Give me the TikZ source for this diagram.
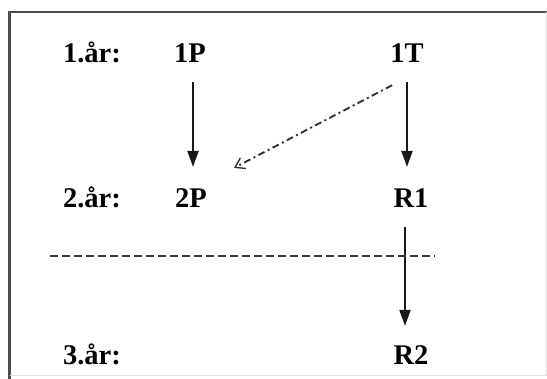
\documentclass[tikz,border=0pt]{standalone}
\usepackage{fontspec}
\setmainfont{Liberation Serif}
\usetikzlibrary{arrows.meta}
\begin{document}
\begin{tikzpicture}[x=1pt,y=-1pt,
  lbl/.style={font=\bfseries\fontsize{28.5}{32}\selectfont, inner sep=0pt, anchor=base},
  solidarrow/.style={draw=black!90, line width=2pt, -{Triangle[length=16pt,width=11pt]}},
  dasharrow/.style={draw=black!80, line width=1.9pt, dash pattern=on 7pt off 3.5pt on 2pt off 3.5pt, -{Straight Barb[length=9pt,width=12pt,line width=1.4pt]}},
  divider/.style={draw=black!80, line width=2pt, dash pattern=on 8pt off 4pt}]
\useasboundingbox (0,0) rectangle (547,379);
% frame
\draw[black!70, line width=2.2pt] (9.5,379) -- (9.5,12) -- (547,12);
\draw[black!12, line width=0.8pt] (9.5,375) -- (546,375) -- (546,12);
% row labels
\node[lbl] (y1) at (92,63) {1.år:};
\node[lbl] (y2) at (92,208) {2.år:};
\node[lbl] (y3) at (92,365) {3.år:};
% nodes
\node[lbl] (p1) at (190,63) {1P};
\node[lbl] (t1) at (407,63) {1T};
\node[lbl] (p2) at (191,208) {2P};
\node[lbl] (r1) at (411,208) {R1};
\node[lbl] (r2) at (411,365) {R2};
% divider end points
\coordinate (ll) at (50,256);
\coordinate (lr) at (435,256);
% connectors
\draw[solidarrow, shorten <=19pt, shorten >=22pt] ([xshift=3pt]p1.south) -- ([xshift=2pt]p2.north);
\draw[solidarrow, shorten <=19pt, shorten >=22pt] (t1.south) -- (t1.south |- p2.north);
\draw[solidarrow, shorten <=19pt, shorten >=20pt] ([xshift=-6pt]r1.south) -- ([xshift=-6pt]r2.north);
\draw[dasharrow] ([xshift=2pt,yshift=-22pt]t1.south west) -- ([xshift=27pt,yshift=21pt]p2.north east);
\draw[divider] (ll) -- (lr);
\end{tikzpicture}
\end{document}
